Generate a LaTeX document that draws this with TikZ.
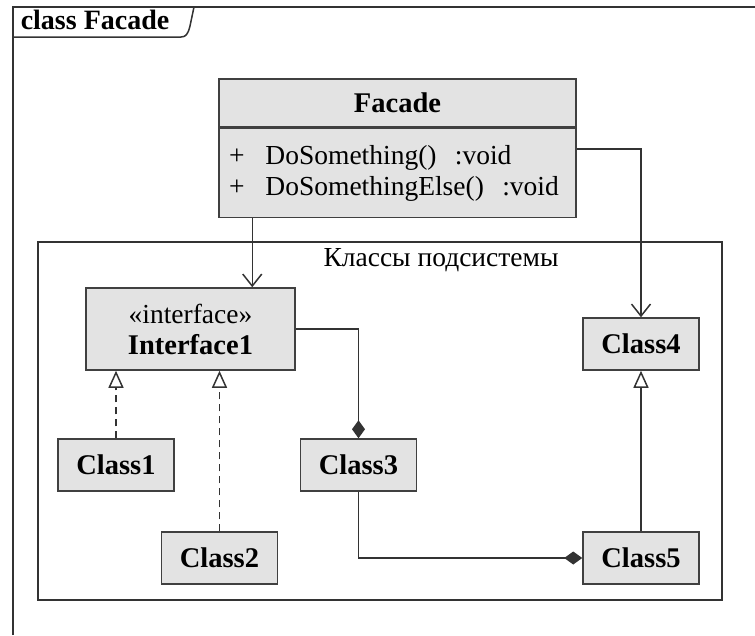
\documentclass[tikz,border=0pt]{standalone}
\usepackage{fontspec}
\setmainfont{Liberation Serif}
\usetikzlibrary{calc}
\usetikzlibrary{arrows.meta}

\begin{document}
\begin{tikzpicture}[x=1pt,y=-1pt,line width=1.5pt,
  box/.style={draw=black!75,fill=black!11,minimum width=116pt,minimum height=52pt,inner sep=0pt,font=\fontsize{28.5}{31}\selectfont\bfseries},
  assoc/.style={draw=black!80,-{Straight Barb[length=12pt,width=19pt]}},
  real/.style={draw=black!80,dash pattern=on 7pt off 5pt,-{Triangle[open,length=17pt,width=15pt,fill=white]}},
  gen/.style={draw=black!80,-{Triangle[open,length=17pt,width=15pt,fill=white]}},
  comp/.style={draw=black!80,-{Diamond[length=18pt,width=13pt]}}]
\useasboundingbox (0,0) rectangle (755,635);
% frame
\draw[black!80] (13,635) -- (13,7) -- (755,7);
\draw[black!80] (13,37) -- (181,37) .. controls (186,37) and (188,34) .. (190,26) -- (194,7);
\node[anchor=base west,inner sep=0pt,font=\fontsize{28}{30}\selectfont\bfseries] (title) at (20,29) {class Facade};
% facade
\node[box,minimum width=357pt,minimum height=48pt] (facade) at (397.5,103) {Facade};
\node[box,minimum width=357pt,minimum height=89pt,anchor=north,align=left,text width=337pt,
  font=\fontsize{27.5}{31}\selectfont] (ops) at (facade.south)
  {+\hspace{21pt}DoSomething()\ \ :void\\+\hspace{21pt}DoSomethingElse()\ \ :void};
% subsystem
\draw[black!80] (38,242) rectangle (722,600);
\node[font=\fontsize{27.5}{31}\selectfont] (pkg) at (441,260.5) {Классы подсистемы};
\node[box,minimum width=209pt,minimum height=82pt,align=center] (iface) at (190.5,329)
  {{\mdseries\fontsize{27.5}{31}\selectfont «interface»}\\Interface1};
\node[box] (c1) at (116,465) {Class1};
\node[box] (c2) at (219.5,558) {Class2};
\node[box] (c3) at (358.5,465) {Class3};
\node[box] (c4) at (641,344) {Class4};
\node[box] (c5) at (641,558) {Class5};

\coordinate (a1) at ($(ops.south west)+(34,0)$);
\coordinate (a2) at ($(ops.north east)+(0,21)$);
\draw[assoc] (a1) -- (a1 |- iface.north);
\draw[assoc] (a2) -| (c4.north);
\draw[real] (c1.north) -- (c1.north |- iface.south);
\draw[real] (c2.north) -- (c2.north |- iface.south);
\draw[comp] (iface.east) -| (c3.north);
\draw[comp] (c3.south) |- (c5.west);
\draw[gen] (c5.north) -- (c4.south);
\end{tikzpicture}
\end{document}
